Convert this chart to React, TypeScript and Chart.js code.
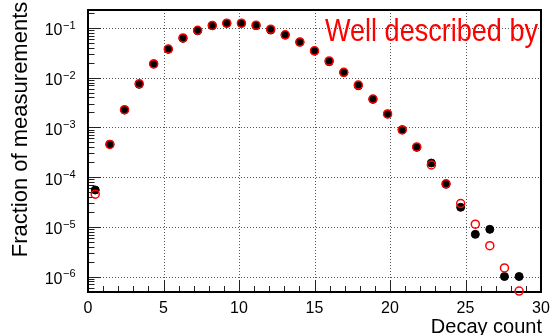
import React, { useEffect, useRef } from "react";
import { Chart, registerables } from "chart.js";

Chart.register(...registerables);

// Decay count bins (bin centres of a 31-bin histogram from 0 to 30)
const binCenters = [
  0.48, 1.45, 2.42, 3.39, 4.35, 5.32, 6.29, 7.26, 8.23, 9.19,
  10.16, 11.13, 12.1, 13.06, 14.03, 15.0, 15.97, 16.94, 17.9, 18.87,
  19.84, 20.81, 21.77, 22.74, 23.71, 24.68, 25.65, 26.61, 27.58, 28.55,
];

// Measured fraction (black filled markers)
const measured = [
  5.5e-5, 4.57e-4, 2.24e-3, 7.36e-3, 1.89e-2, 3.73e-2, 6.2e-2, 8.8e-2, 0.111, 0.124,
  0.124, 0.111, 0.091, 0.072, 0.052, 0.0344, 0.021, 0.0127, 6.9e-3, 3.67e-3,
  1.86e-3, 9.0e-4, 3.98e-4, 1.92e-4, 7.2e-5, 2.47e-5, 7.06e-6, 8.9e-6, 1.0e-6, 1.0e-6,
];

// Poisson description (red open markers)
const poisson = [
  4.54e-5, 4.54e-4, 2.27e-3, 7.57e-3, 1.89e-2, 3.78e-2, 6.31e-2, 9.01e-2, 0.1126, 0.1251,
  0.1251, 0.1137, 0.0948, 0.0729, 0.0521, 0.0347, 0.0217, 0.0128, 7.09e-3, 3.73e-3,
  1.87e-3, 8.89e-4, 4.04e-4, 1.76e-4, 7.32e-5, 2.93e-5, 1.13e-5, 4.17e-6, 1.49e-6, 5.1e-7,
];

const xTickLabels = [0, 5, 10, 15, 20, 25, 30];
const yTickExponents = [-1, -2, -3, -4, -5, -6];

const xTitle = "Decay count";
const yTitle = "Fraction of measurements";
const annotation = "Well described by";

const FONT = '"Liberation Sans", Arial, Helvetica, sans-serif';

const rootStylePlugin = {
  id: "rootStyle",
  beforeDatasetsDraw(chart: any) {
    const { ctx, chartArea, scales } = chart;
    const { left, right, top, bottom } = chartArea;
    const xs = scales.x;
    const ys = scales.y;
    ctx.save();

    // grid (dotted)
    ctx.strokeStyle = "#555";
    ctx.lineWidth = 1;
    ctx.setLineDash([1, 2]);
    for (const v of xTickLabels) {
      if (v <= xs.min || v >= xs.max) continue;
      const px = Math.round(xs.getPixelForValue(v)) + 0.5;
      ctx.beginPath();
      ctx.moveTo(px, top);
      ctx.lineTo(px, bottom);
      ctx.stroke();
    }
    for (const e of yTickExponents) {
      const py = Math.round(ys.getPixelForValue(Math.pow(10, e))) + 0.5;
      ctx.beginPath();
      ctx.moveTo(left, py);
      ctx.lineTo(right, py);
      ctx.stroke();
    }
    ctx.setLineDash([]);

    // ticks
    ctx.strokeStyle = "#222";
    ctx.lineWidth = 1;
    for (let v = Math.ceil(xs.min); v <= xs.max; v++) {
      const major = v % 5 === 0;
      const px = Math.round(xs.getPixelForValue(v)) + 0.5;
      ctx.beginPath();
      ctx.moveTo(px, bottom);
      ctx.lineTo(px, bottom - (major ? 12 : 6));
      ctx.stroke();
    }
    for (let e = -7; e <= 0; e++) {
      for (let k = 1; k <= 9; k++) {
        const val = k * Math.pow(10, e);
        if (val < ys.min || val > ys.max) continue;
        const py = Math.round(ys.getPixelForValue(val)) + 0.5;
        ctx.beginPath();
        ctx.moveTo(left, py);
        ctx.lineTo(left + (k === 1 ? 13 : 6.5), py);
        ctx.stroke();
      }
    }

    // frame
    ctx.strokeStyle = "#000";
    ctx.lineWidth = 2;
    ctx.strokeRect(left, top, right - left, bottom - top);

    // x tick labels
    ctx.fillStyle = "#000";
    ctx.font = `16px ${FONT}`;
    ctx.textAlign = "center";
    ctx.textBaseline = "alphabetic";
    for (const v of xTickLabels) {
      ctx.fillText(String(v), xs.getPixelForValue(v), bottom + 21);
    }

    // y tick labels 10^-n
    ctx.textAlign = "left";
    for (const e of yTickExponents) {
      const py = ys.getPixelForValue(Math.pow(10, e));
      ctx.font = `16px ${FONT}`;
      const wb = ctx.measureText("10").width;
      const expStr = "\u2212" + Math.abs(e);
      ctx.font = `11px ${FONT}`;
      const we = ctx.measureText(expStr).width;
      const startX = left - 12.5 - we - wb - 0.5;
      ctx.font = `16px ${FONT}`;
      ctx.fillText("10", startX, py + 7.5);
      ctx.font = `11px ${FONT}`;
      ctx.fillText(expStr, startX + wb + 0.5, py + 0.8);
    }

    // axis titles
    ctx.font = `20px ${FONT}`;
    ctx.textAlign = "right";
    ctx.fillText(xTitle, right + 1, bottom + 41);

    ctx.save();
    ctx.font = `22px ${FONT}`;
    ctx.translate(27, (top + bottom) / 2 - 21.5);
    ctx.rotate(-Math.PI / 2);
    ctx.textAlign = "center";
    ctx.fillText(yTitle, 0, 0);
    ctx.restore();

    // annotation (condensed red text)
    ctx.save();
    ctx.font = `32px ${FONT}`;
    ctx.fillStyle = "#ff0000";
    ctx.textAlign = "left";
    const tw = ctx.measureText(annotation).width;
    const targetW = 213;
    ctx.translate(325, top + 31);
    ctx.scale(targetW / tw, 1);
    ctx.fillText(annotation, 0, 0);
    ctx.restore();

    ctx.restore();
  },
};

export default function App() {
  const canvasRef = useRef<HTMLCanvasElement | null>(null);

  useEffect(() => {
    if (!canvasRef.current) return;
    const chart = new Chart(canvasRef.current, {
      type: "scatter",
      data: {
        datasets: [
          {
            label: "Measured",
            data: binCenters.map((x, i) => ({ x, y: measured[i] })),
            pointRadius: 4,
            pointBorderWidth: 1,
            backgroundColor: "#000",
            borderColor: "#000",
            pointHoverRadius: 4,
            clip: false as any,
            order: 1,
          },
          {
            label: "Poisson",
            data: binCenters.map((x, i) => ({ x, y: poisson[i] })),
            pointRadius: 4,
            pointBorderWidth: 1.5,
            backgroundColor: "rgba(0,0,0,0)",
            borderColor: "#ff0000",
            pointHoverRadius: 4,
            clip: false as any,
            order: 0,
          },
        ],
      },
      options: {
        responsive: false,
        maintainAspectRatio: false,
        animation: false,
        devicePixelRatio: 1,
        layout: { padding: { left: 88, right: 9, top: 10, bottom: 43 } },
        scales: {
          x: { type: "linear", min: 0, max: 30, display: false },
          y: { type: "logarithmic", min: 4.88e-7, max: 0.2302, display: false },
        },
        plugins: {
          legend: { display: false },
          tooltip: { enabled: false },
        },
        events: [],
      },
      plugins: [rootStylePlugin],
    });
    return () => chart.destroy();
  }, []);

  return (
    <div
      style={{
        position: "fixed",
        left: 0,
        top: 0,
        width: 550,
        height: 335,
        background: "#fff",
      }}
    >
      <canvas ref={canvasRef} width={550} height={335} style={{ width: 550, height: 335 }} />
    </div>
  );
}
